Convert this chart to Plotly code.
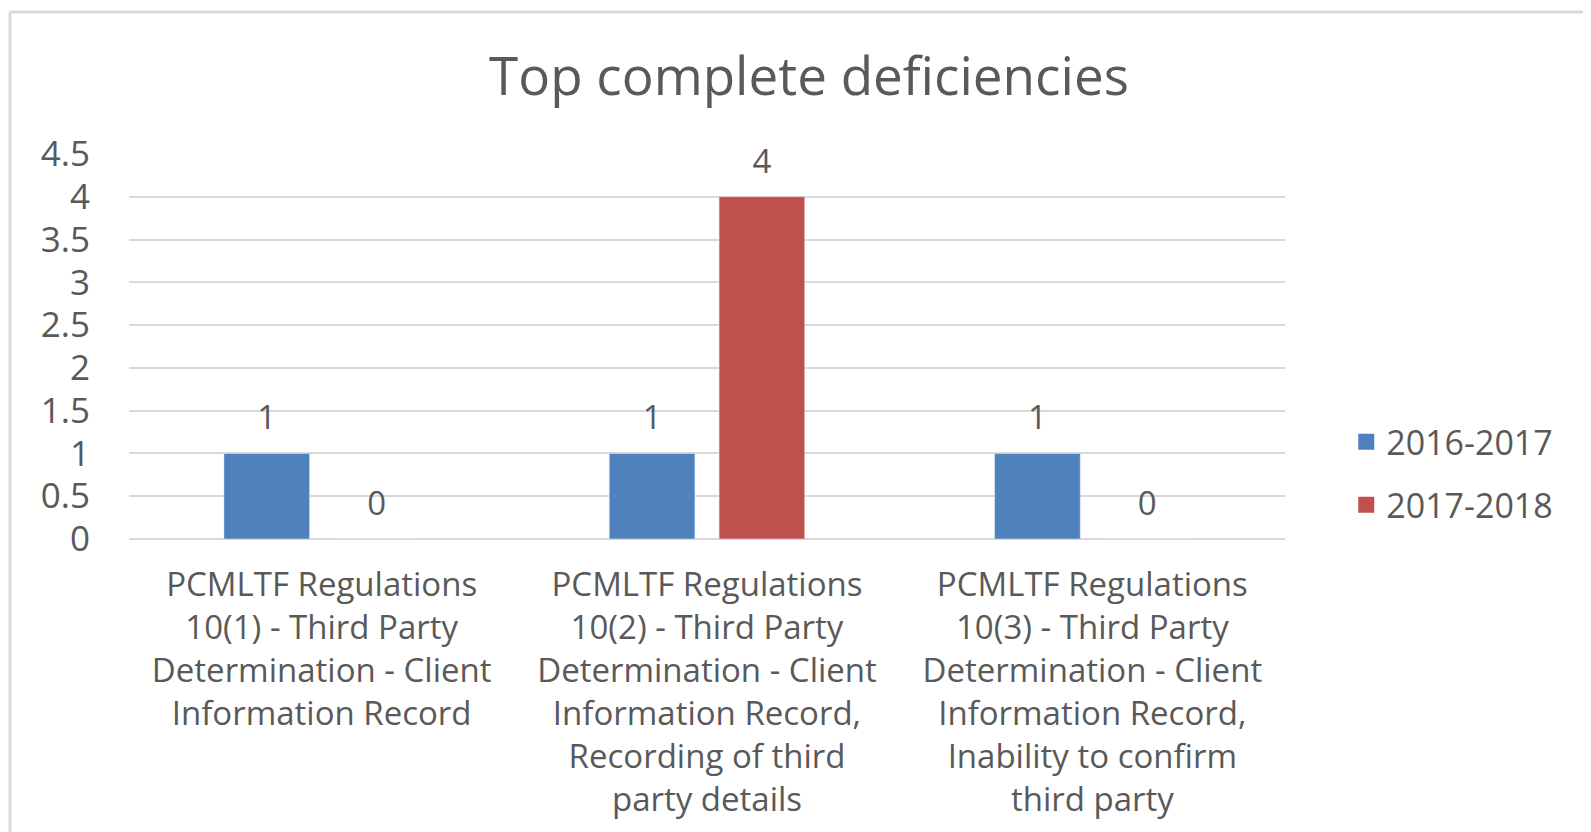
import plotly.graph_objects as go

categories = [
    "PCMLTF Regulations<br>10(1) - Third Party<br>Determination - Client<br>Information Record",
    "PCMLTF Regulations<br>10(2) - Third Party<br>Determination - Client<br>Information Record,<br>Recording of third<br>party details",
    "PCMLTF Regulations<br>10(3) - Third Party<br>Determination - Client<br>Information Record,<br>Inability to confirm<br>third party",
]
series_names = ["2016-2017", "2017-2018"]
values_2016_2017 = [1, 1, 1]
values_2017_2018 = [0, 4, 0]
colors = ["#4f81bd", "#c0504d"]
y_ticks = [0, 0.5, 1, 1.5, 2, 2.5, 3, 3.5, 4, 4.5]
y_ticklabels = ["0", "0.5", "1", "1.5", "2", "2.5", "3", "3.5", "4", "4.5"]

FONT = "Open Sans"
TXT = "#595959"
FS_X = 33
FS_Y = 35
FS_LEG = 34
FS_LBL = 33

W, H = 1583, 824
L, R, T, B = 121, 306, 146, 293
PW = W - L - R
PH = H - T - B

fig = go.Figure()
series = [values_2016_2017, values_2017_2018]
for i, (name, vals) in enumerate(zip(series_names, series)):
    fig.add_trace(go.Bar(
        x=categories, y=vals, name=name, marker_color=colors[i],
        offsetgroup=str(i), showlegend=False,
    ))
for i, (name, vals) in enumerate(zip(series_names, series)):
    fig.add_trace(go.Scatter(
        x=categories, y=vals, mode="markers+text", text=[str(v) for v in vals],
        textposition="top center", textfont=dict(family=FONT, size=FS_LBL, color=TXT),
        marker=dict(size=24, opacity=0), offsetgroup=str(i), showlegend=False,
        cliponaxis=False, hoverinfo="skip",
    ))
# legend entries
for i, name in enumerate(series_names):
    fig.add_trace(go.Scatter(
        x=[None], y=[None], mode="markers", name=name,
        marker=dict(symbol="square", size=20, color=colors[i]),
        legendgroup=name,
    ))

fig.update_layout(
    width=W, height=H,
    margin=dict(l=L, r=R, t=T, b=B, autoexpand=False),
    paper_bgcolor="white", plot_bgcolor="white",
    barmode="group", bargap=0.43, bargroupgap=0.22,
    scattermode="group", scattergap=0.43,
    title=dict(text="Top complete deficiencies", x=801 / W, xanchor="center",
               xref="container", y=1 - 68 / H, yanchor="middle",
               font=dict(family=FONT, size=53, color=TXT)),
    font=dict(family=FONT, size=FS_X, color=TXT),
    legend=dict(x=1.053, xanchor="left", y=0.17, yanchor="middle",
                font=dict(family=FONT, size=FS_LEG, color=TXT),
                tracegroupgap=16, traceorder="grouped", itemwidth=30),
    showlegend=True,
)
fig.update_yaxes(
    range=[0, 4.5], tickvals=y_ticks, ticktext=y_ticklabels,
    showgrid=True, gridcolor="#d9d9d9", gridwidth=2,
    zeroline=True, zerolinecolor="#d9d9d9", zerolinewidth=2,
    showline=False, ticks="", ticklabelstandoff=38,
    tickfont=dict(family=FONT, size=FS_Y, color=TXT),
)
fig.update_xaxes(
    showgrid=False, showline=False, ticks="", ticklabelstandoff=23,
    tickfont=dict(family=FONT, size=FS_X, color=TXT), tickangle=0,
)
# chart border (top and left edges visible)
fig.add_shape(type="line", xref="paper", yref="paper",
              x0=(2 - L) / PW, x1=(W - L) / PW,
              y0=(T + PH - 4) / PH, y1=(T + PH - 4) / PH,
              line=dict(color="#d9d9d9", width=3))
fig.add_shape(type="line", xref="paper", yref="paper",
              x0=(2 - L) / PW, x1=(2 - L) / PW,
              y0=(T + PH - 4) / PH, y1=-B / PH,
              line=dict(color="#d9d9d9", width=3))

fig.write_html("out.html")
